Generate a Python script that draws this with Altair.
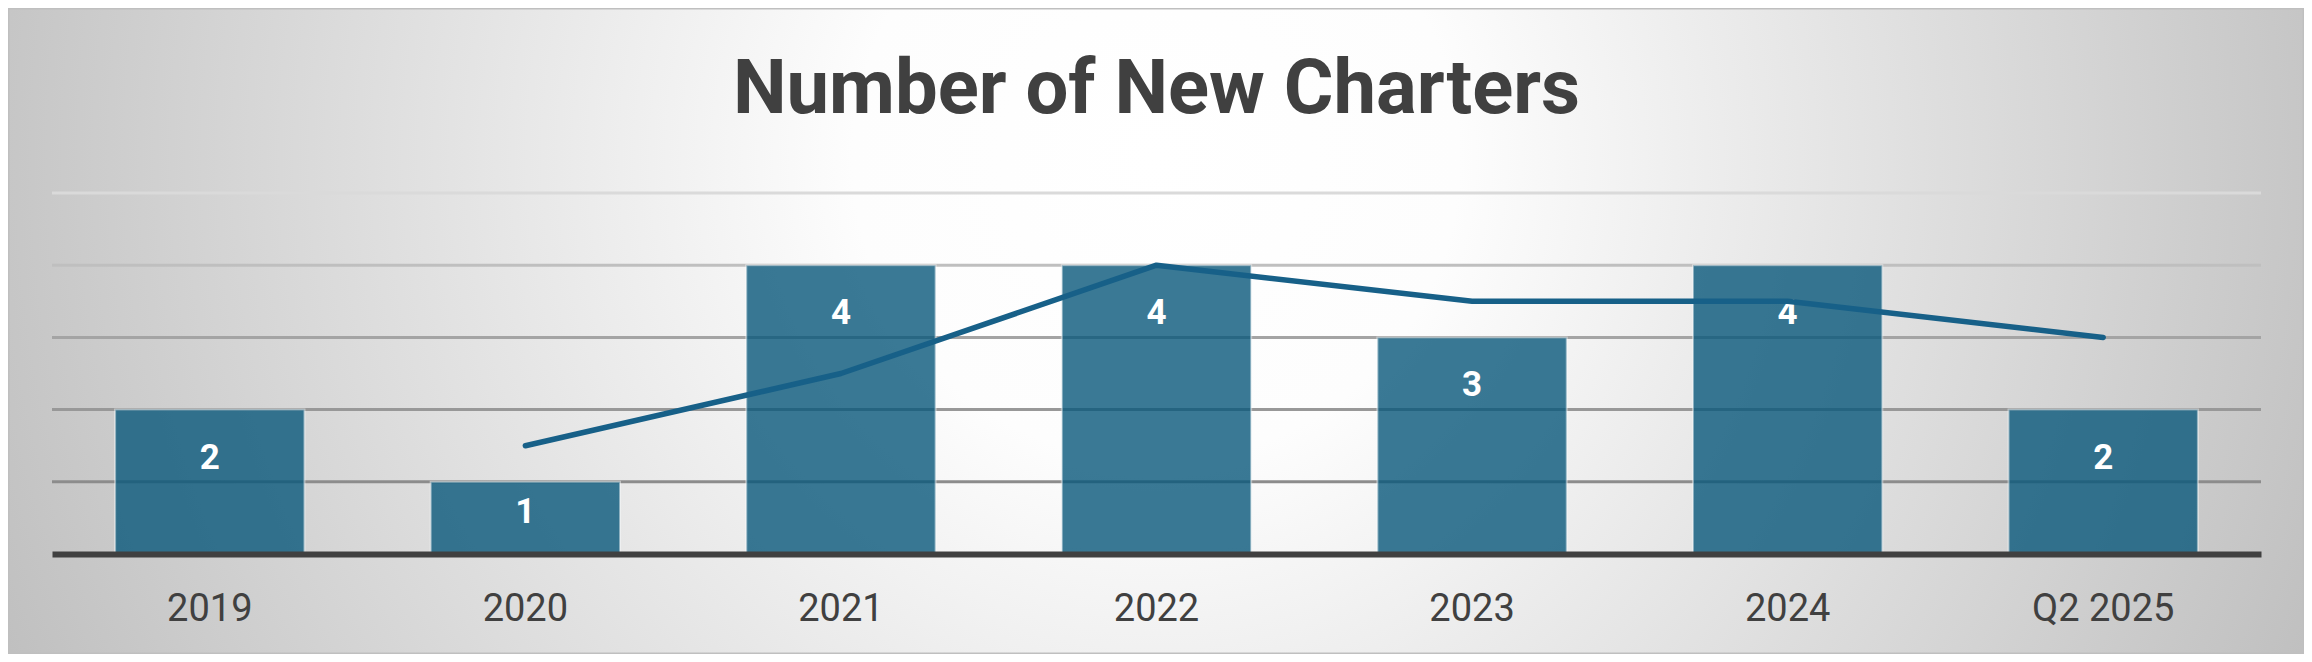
import altair as alt
import pandas as pd

# ---- data ----
periods = ["2019", "2020", "2021", "2022", "2023", "2024", "Q2 2025"]
charters = [2, 1, 4, 4, 3, 4, 2]
trend = [None, 1.5, 2.5, 4, 3.5, 3.5, 3]
grid_values = [1, 2, 3, 4, 5]
title_text = ["Number of New Charters"]

# ---- layout ----
W, H = 2209, 361
TOTAL_W, TOTAL_H = 2296, 646
PAD_L, PAD_T = 44, 185
PAD_R = TOTAL_W - W - PAD_L
PAD_B = TOTAL_H - H - PAD_T

df = pd.DataFrame({"period": periods, "charters": charters, "trend": trend})
grid_df = pd.DataFrame({"tick": grid_values})
title_df = pd.DataFrame({"t": title_text})

y_scale = alt.Scale(domain=[0, 5], nice=False, zero=True)

x_enc = alt.X(
    "period:N",
    sort=periods,
    scale=alt.Scale(paddingInner=0.4, paddingOuter=0.2),
    axis=alt.Axis(
        title=None,
        ticks=False,
        tickSize=0,
        grid=False,
        labelFont="Roboto",
        labelFontSize=38,
        labelColor="#404040",
        labelBaseline="alphabetic",
        labelPadding=66,
        labelAngle=0,
        domainColor="#404040",
        domainWidth=6,
        zindex=1,
    ),
)

bg_gradient = {
    "gradient": "radial",
    "x1": 0.5, "y1": 0.425, "r1": 0,
    "x2": 0.5, "y2": 0.425, "r2": 0.55,
    "stops": [
        {"offset": 0, "color": "#ffffff"},
        {"offset": 0.24, "color": "#fdfdfd"},
        {"offset": 1, "color": "#bfbfbf"},
    ],
}

background = alt.Chart(pd.DataFrame({"k": [0]})).mark_rect(
    fill=bg_gradient, stroke="#bfbfbf", strokeWidth=3
).encode(
    x=alt.value(-PAD_L),
    x2=alt.value(TOTAL_W - PAD_L),
    y=alt.value(-PAD_T),
    y2=alt.value(TOTAL_H - PAD_T),
)

grid = alt.Chart(grid_df).mark_rule(strokeWidth=3).encode(
    y=alt.Y("tick:Q", scale=y_scale, axis=None),
    color=alt.Color(
        "tick:Q",
        scale=alt.Scale(domain=[1, 3, 5], range=["#8c8c8c", "#a4a4a4", "#dadada"]),
        legend=None,
    ),
)

bars = alt.Chart(df).mark_bar(
    fill="#09587b", fillOpacity=0.8, stroke="#ffffff", strokeOpacity=0.45, strokeWidth=2
).encode(
    x=x_enc,
    y=alt.Y("charters:Q", scale=y_scale, axis=None),
)

labels = alt.Chart(df).transform_calculate(
    label_y="datum.charters >= 2 ? datum.charters - 0.817 : datum.charters - 0.57"
).mark_text(
    font="Roboto", fontSize=35, fontWeight="bold", color="#ffffff", baseline="alphabetic"
).encode(
    x=x_enc,
    y=alt.Y("label_y:Q", scale=y_scale, axis=None),
    text=alt.Text("charters:Q"),
)

line = alt.Chart(df).mark_line(
    color="#176088", strokeWidth=5.5, strokeCap="round", strokeJoin="round"
).encode(
    x=x_enc,
    y=alt.Y("trend:Q", scale=y_scale, axis=None),
)

title = alt.Chart(title_df).mark_text(
    font="Roboto", fontSize=76, fontWeight="bold", color="#404040",
    baseline="alphabetic", align="center"
).encode(
    x=alt.value(W / 2),
    y=alt.value(-80),
    text="t:N",
)

chart = alt.layer(background, grid, bars, labels, line, title).properties(
    width=W,
    height=H,
    padding={"left": PAD_L, "top": PAD_T, "right": PAD_R, "bottom": PAD_B},
    autosize="none",
).configure_view(stroke=None)

chart.save("out.html", embed_options={"renderer": "svg", "actions": False})
